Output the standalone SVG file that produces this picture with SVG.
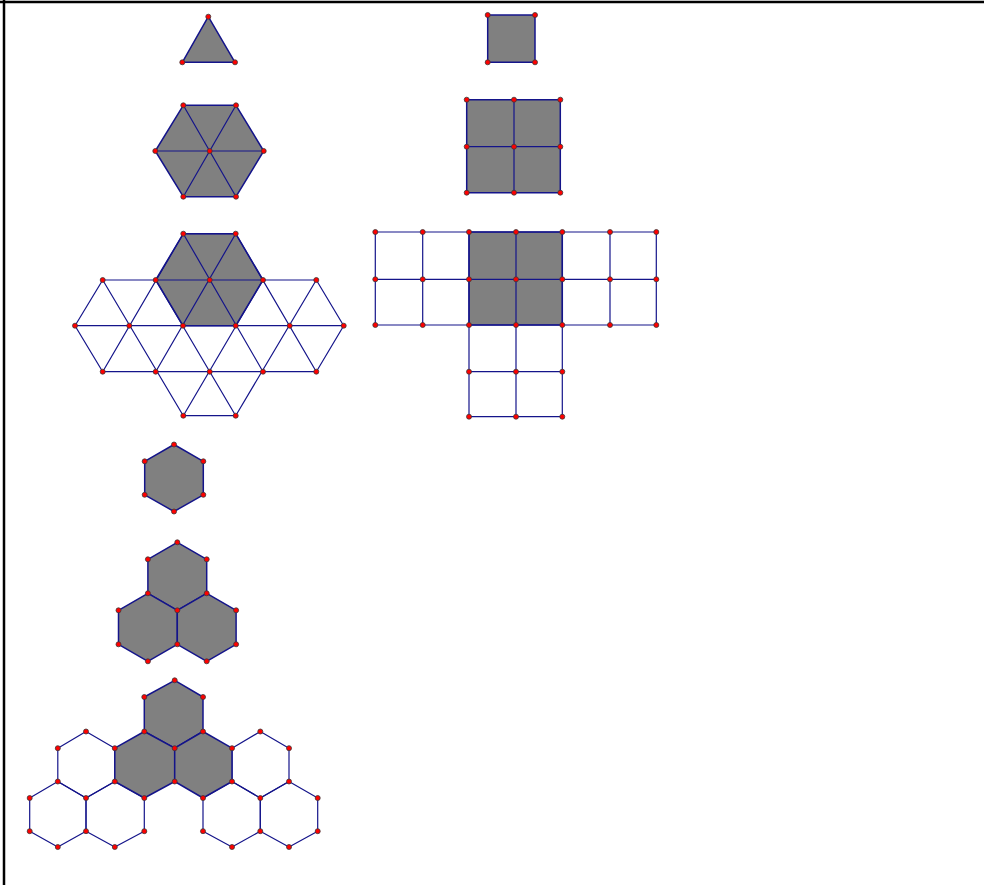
<svg xmlns="http://www.w3.org/2000/svg" width="984" height="885" viewBox="0 0 984 885">
<style>
.sh{fill:#808080;stroke:#14148a;stroke-width:1.5;stroke-linejoin:round}
.ln{fill:none;stroke:#14148a;stroke-width:1.2;stroke-linecap:round;stroke-linejoin:round}
.pt{fill:#ff0000;stroke:#3a3a3a;stroke-width:0.8}
.frame{stroke:#000;stroke-width:2.5;fill:none}
</style>
<rect width="984" height="885" fill="#fff"/>
<g id="frame">
<line class="frame" x1="0" y1="2" x2="984" y2="2"/>
<line class="frame" x1="4" y1="0" x2="4" y2="885"/>
</g>

<g id="triangle">
<polygon class="sh" points="208.3,16.7 235,62.3 182.3,62.3"/>
<g class="pt"><circle cx="208.3" cy="16.7" r="2.5"/><circle cx="182.3" cy="62.3" r="2.5"/><circle cx="235" cy="62.3" r="2.5"/></g>
</g>

<g id="tri-hexagon">
<polygon class="sh" points="183.3,105.3 236,105.3 263.7,151 236,196.7 183.3,196.7 155.3,151"/>
<path class="ln" d="M155.3,151H263.7M183.3,105.3L236,196.7M236,105.3L183.3,196.7"/>
<g class="pt"><circle cx="183.3" cy="105.3" r="2.5"/><circle cx="236" cy="105.3" r="2.5"/><circle cx="155.3" cy="151" r="2.5"/><circle cx="209.7" cy="151" r="2.5"/><circle cx="263.7" cy="151" r="2.5"/><circle cx="183.3" cy="196.7" r="2.5"/><circle cx="236" cy="196.7" r="2.5"/></g>
</g>

<g id="tri-grid">
<polygon class="sh" points="183.3,233.7 235.7,233.7 263,280 235.7,325.7 183,325.7 155.7,280"/>
<path class="ln" d="M183.3,233.7H235.7M102.7,280H316.3M75,325.7H343.7M102.7,371.7H316.3M183.3,415.7H235.7
M183.3,233.7L263,371.7M235.7,233.7L316.3,371.7M155.7,280L235.7,415.7M102.7,280L183.3,415.7M75,325.7L102.7,371.7M316.3,280L343.7,325.7
M235.7,233.7L155.7,371.7M183.3,233.7L102.7,371.7M263,280L183.3,415.7M316.3,280L235.7,415.7M102.7,280L75,325.7M343.7,325.7L316.3,371.7"/>
<g class="pt">
<circle cx="183.3" cy="233.7" r="2.5"/><circle cx="235.7" cy="233.7" r="2.5"/>
<circle cx="102.7" cy="280" r="2.5"/><circle cx="155.7" cy="280" r="2.5"/><circle cx="209.7" cy="280" r="2.5"/><circle cx="263" cy="280" r="2.5"/><circle cx="316.3" cy="280" r="2.5"/>
<circle cx="75" cy="325.7" r="2.5"/><circle cx="129.3" cy="325.7" r="2.5"/><circle cx="183" cy="325.7" r="2.5"/><circle cx="235.7" cy="325.7" r="2.5"/><circle cx="289.7" cy="325.7" r="2.5"/><circle cx="343.7" cy="325.7" r="2.5"/>
<circle cx="102.7" cy="371.7" r="2.5"/><circle cx="155.7" cy="371.7" r="2.5"/><circle cx="209.7" cy="371.7" r="2.5"/><circle cx="263" cy="371.7" r="2.5"/><circle cx="316.3" cy="371.7" r="2.5"/>
<circle cx="183.3" cy="415.7" r="2.5"/><circle cx="235.7" cy="415.7" r="2.5"/>
</g>
</g>

<g id="square">
<rect class="sh" x="487.7" y="15" width="47.3" height="47.3"/>
<g class="pt"><circle cx="487.7" cy="15" r="2.5"/><circle cx="535" cy="15" r="2.5"/><circle cx="487.7" cy="62.3" r="2.5"/><circle cx="535" cy="62.3" r="2.5"/></g>
</g>

<g id="square-2x2">
<rect class="sh" x="466.7" y="99.7" width="93.6" height="93"/>
<path class="ln" d="M514,99.7V192.7M466.7,146.7H560.3"/>
<g class="pt">
<circle cx="466.7" cy="99.7" r="2.5"/><circle cx="514" cy="99.7" r="2.5"/><circle cx="560.3" cy="99.7" r="2.5"/>
<circle cx="466.7" cy="146.7" r="2.5"/><circle cx="514" cy="146.7" r="2.5"/><circle cx="560.3" cy="146.7" r="2.5"/>
<circle cx="466.7" cy="192.7" r="2.5"/><circle cx="514" cy="192.7" r="2.5"/><circle cx="560.3" cy="192.7" r="2.5"/>
</g>
</g>

<g id="square-grid">
<rect class="sh" x="469" y="232" width="93.3" height="93"/>
<path class="ln" d="M375.3,232H656.3M375.3,279.3H656.3M375.3,325H656.3M469,371.7H562.3M469,416.7H562.3
M375.3,232V325M422.7,232V325M469,232V416.7M516,232V416.7M562.3,232V416.7M610,232V325M656.3,232V325"/>
<g class="pt">
<circle cx="375.3" cy="232" r="2.5"/><circle cx="422.7" cy="232" r="2.5"/><circle cx="469" cy="232" r="2.5"/><circle cx="516" cy="232" r="2.5"/><circle cx="562.3" cy="232" r="2.5"/><circle cx="610" cy="232" r="2.5"/><circle cx="656.3" cy="232" r="2.5"/>
<circle cx="375.3" cy="279.3" r="2.5"/><circle cx="422.7" cy="279.3" r="2.5"/><circle cx="469" cy="279.3" r="2.5"/><circle cx="516" cy="279.3" r="2.5"/><circle cx="562.3" cy="279.3" r="2.5"/><circle cx="610" cy="279.3" r="2.5"/><circle cx="656.3" cy="279.3" r="2.5"/>
<circle cx="375.3" cy="325" r="2.5"/><circle cx="422.7" cy="325" r="2.5"/><circle cx="469" cy="325" r="2.5"/><circle cx="516" cy="325" r="2.5"/><circle cx="562.3" cy="325" r="2.5"/><circle cx="610" cy="325" r="2.5"/><circle cx="656.3" cy="325" r="2.5"/>
<circle cx="469" cy="371.7" r="2.5"/><circle cx="516" cy="371.7" r="2.5"/><circle cx="562.3" cy="371.7" r="2.5"/>
<circle cx="469" cy="416.7" r="2.5"/><circle cx="516" cy="416.7" r="2.5"/><circle cx="562.3" cy="416.7" r="2.5"/>
</g>
</g>

<g id="hexagon">
<polygon class="sh" points="174,444.5 203.3,461.3 203.3,494.8 174,511.5 144.7,494.8 144.7,461.3"/>
<g class="pt"><circle cx="174" cy="444.5" r="2.5"/><circle cx="203.3" cy="461.3" r="2.5"/><circle cx="203.3" cy="494.8" r="2.5"/><circle cx="174" cy="511.5" r="2.5"/><circle cx="144.7" cy="494.8" r="2.5"/><circle cx="144.7" cy="461.3" r="2.5"/></g>
</g>

<g id="hexagon-3">
<polygon class="sh" points="177.3,542.3 206.7,559.3 206.7,593.3 177.3,610.3 147.9,593.3 147.9,559.3"/>
<polygon class="sh" points="147.9,593.3 177.3,610.3 177.3,644.3 147.9,661.3 118.5,644.3 118.5,610.3"/>
<polygon class="sh" points="206.7,593.3 236.1,610.3 236.1,644.3 206.7,661.3 177.3,644.3 177.3,610.3"/>
<g class="pt">
<circle cx="177.3" cy="542.3" r="2.5"/><circle cx="147.9" cy="559.3" r="2.5"/><circle cx="206.7" cy="559.3" r="2.5"/>
<circle cx="147.9" cy="593.3" r="2.5"/><circle cx="206.7" cy="593.3" r="2.5"/>
<circle cx="118.5" cy="610.3" r="2.5"/><circle cx="177.3" cy="610.3" r="2.5"/><circle cx="236.1" cy="610.3" r="2.5"/>
<circle cx="118.5" cy="644.3" r="2.5"/><circle cx="177.3" cy="644.3" r="2.5"/><circle cx="236.1" cy="644.3" r="2.5"/>
<circle cx="147.9" cy="661.3" r="2.5"/><circle cx="206.7" cy="661.3" r="2.5"/>
</g>
</g>

<g id="hexagon-grid">
<g class="ln">
<polygon points="86,731.5 114.8,748.2 114.8,781.5 86,798 57.8,781.5 57.8,748.2"/>
<polygon points="57.8,781.5 86,798 86,831.2 57.8,847 29.7,831.2 29.7,798"/>
<polygon points="114.8,781.5 144.3,798 144.3,831.2 114.8,847 86,831.2 86,798"/>
<polygon points="260.3,731.5 289,748.2 289,781.5 260.3,798 232,781.5 232,748.2"/>
<polygon points="232,781.5 260.3,798 260.3,831.2 232,847 203,831.2 203,798"/>
<polygon points="289,781.5 317.7,798 317.7,831.2 289,847 260.3,831.2 260.3,798"/>
</g>
<polygon class="sh" points="174.7,680.3 203,697 203,731.5 174.7,748.2 144.3,731.5 144.3,697"/>
<polygon class="sh" points="144.3,731.5 174.7,748.2 174.7,781.5 144.3,798 114.8,781.5 114.8,748.2"/>
<polygon class="sh" points="203,731.5 232,748.2 232,781.5 203,798 174.7,781.5 174.7,748.2"/>
<g class="pt">
<circle cx="174.7" cy="680.3" r="2.5"/>
<circle cx="144.3" cy="697" r="2.5"/><circle cx="203" cy="697" r="2.5"/>
<circle cx="86" cy="731.5" r="2.5"/><circle cx="144.3" cy="731.5" r="2.5"/><circle cx="203" cy="731.5" r="2.5"/><circle cx="260.3" cy="731.5" r="2.5"/>
<circle cx="57.8" cy="748.2" r="2.5"/><circle cx="114.8" cy="748.2" r="2.5"/><circle cx="174.7" cy="748.2" r="2.5"/><circle cx="232" cy="748.2" r="2.5"/><circle cx="289" cy="748.2" r="2.5"/>
<circle cx="57.8" cy="781.5" r="2.5"/><circle cx="114.8" cy="781.5" r="2.5"/><circle cx="174.7" cy="781.5" r="2.5"/><circle cx="232" cy="781.5" r="2.5"/><circle cx="289" cy="781.5" r="2.5"/>
<circle cx="29.7" cy="798" r="2.5"/><circle cx="86" cy="798" r="2.5"/><circle cx="144.3" cy="798" r="2.5"/><circle cx="203" cy="798" r="2.5"/><circle cx="260.3" cy="798" r="2.5"/><circle cx="317.7" cy="798" r="2.5"/>
<circle cx="29.7" cy="831.2" r="2.5"/><circle cx="86" cy="831.2" r="2.5"/><circle cx="144.3" cy="831.2" r="2.5"/><circle cx="203" cy="831.2" r="2.5"/><circle cx="260.3" cy="831.2" r="2.5"/><circle cx="317.7" cy="831.2" r="2.5"/>
<circle cx="57.8" cy="847" r="2.5"/><circle cx="114.8" cy="847" r="2.5"/><circle cx="232" cy="847" r="2.5"/><circle cx="289" cy="847" r="2.5"/>
</g>
</g>
</svg>
